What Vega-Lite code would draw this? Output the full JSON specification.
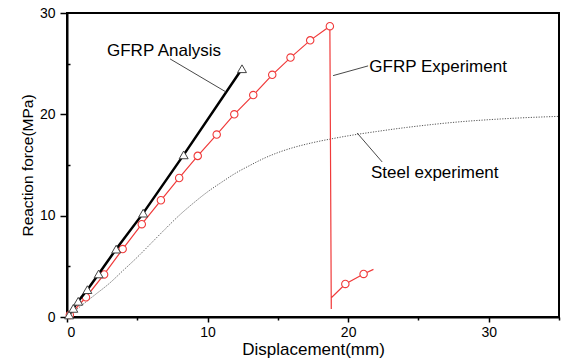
{
  "$schema": "https://vega.github.io/schema/vega-lite/v6.json",
  "width": 492,
  "height": 304,
  "autosize": {"type": "none"},
  "padding": {"left": 67, "top": 13, "right": 6, "bottom": 42},
  "background": "white",
  "config": {
    "font": "Liberation Sans",
    "view": {"stroke": "black", "strokeWidth": 2},
    "axis": {"grid": false, "domainColor": "black", "domainWidth": 2, "tickColor": "black", "tickWidth": 1.5, "labelColor": "black", "titleColor": "black", "labelFont": "Liberation Sans", "titleFont": "Liberation Sans", "labelFontSize": 14, "titleFontWeight": "normal"}
  },
  "datasets": {
    "steel": [
      {"x": 0, "y": 0}, {"x": 1, "y": 1.1}, {"x": 2, "y": 2.2}, {"x": 3, "y": 3.3}, {"x": 4, "y": 4.6},
      {"x": 5, "y": 5.9}, {"x": 6, "y": 7.3}, {"x": 7, "y": 8.7}, {"x": 8, "y": 10.05}, {"x": 9, "y": 11.25},
      {"x": 10, "y": 12.35}, {"x": 11, "y": 13.3}, {"x": 12, "y": 14.2}, {"x": 13, "y": 14.95}, {"x": 14, "y": 15.65},
      {"x": 15, "y": 16.22}, {"x": 16, "y": 16.68}, {"x": 17, "y": 17.05}, {"x": 18, "y": 17.36}, {"x": 19, "y": 17.63},
      {"x": 20, "y": 17.88}, {"x": 22, "y": 18.3}, {"x": 24, "y": 18.68}, {"x": 26, "y": 19.0}, {"x": 28, "y": 19.27},
      {"x": 30, "y": 19.47}, {"x": 32, "y": 19.63}, {"x": 35, "y": 19.8}
    ],
    "gfrpExp": [
      {"i": 0, "x": 0.2, "y": 0.2, "m": 1}, {"i": 1, "x": 1.35, "y": 1.95, "m": 1}, {"i": 2, "x": 2.64, "y": 4.2, "m": 1},
      {"i": 3, "x": 3.96, "y": 6.7, "m": 1}, {"i": 4, "x": 5.32, "y": 9.16, "m": 1}, {"i": 5, "x": 6.68, "y": 11.52, "m": 1},
      {"i": 6, "x": 7.98, "y": 13.72, "m": 1}, {"i": 7, "x": 9.3, "y": 15.9, "m": 1}, {"i": 8, "x": 10.65, "y": 18.0, "m": 1},
      {"i": 9, "x": 11.9, "y": 20.0, "m": 1}, {"i": 10, "x": 13.25, "y": 21.9, "m": 1}, {"i": 11, "x": 14.6, "y": 23.9, "m": 1},
      {"i": 12, "x": 15.9, "y": 25.6, "m": 1}, {"i": 13, "x": 17.3, "y": 27.3, "m": 1}, {"i": 14, "x": 18.7, "y": 28.7, "m": 1},
      {"i": 15, "x": 18.8, "y": 0.8, "m": 0}, {"i": 16, "x": 18.8, "y": 1.9, "m": 0}, {"i": 17, "x": 19.8, "y": 3.26, "m": 1},
      {"i": 18, "x": 21.1, "y": 4.25, "m": 1}, {"i": 19, "x": 21.8, "y": 4.7, "m": 0}
    ],
    "gfrpAna": [
      {"x": 0.15, "y": 0.2}, {"x": 0.45, "y": 0.85}, {"x": 0.8, "y": 1.55}, {"x": 1.45, "y": 2.7},
      {"x": 2.25, "y": 4.25}, {"x": 3.5, "y": 6.7}, {"x": 5.42, "y": 10.25}, {"x": 8.3, "y": 16.0}, {"x": 12.45, "y": 24.5}
    ],
    "leaders": [
      {"x": 7.33, "y": 25.47, "x2": 11.32, "y2": 22.2},
      {"x": 18.93, "y": 23.82, "x2": 21.42, "y2": 24.78},
      {"x": 20.64, "y": 18.16, "x2": 22.42, "y2": 15.3}
    ],
    "labels": [
      {"x": 6.9, "y": 25.77, "label": "GFRP Analysis"},
      {"x": 26.4, "y": 24.19, "label": "GFRP Experiment"},
      {"x": 26.16, "y": 13.72, "label": "Steel experiment"}
    ]
  },
  "encoding": {
    "x": {
      "field": "x", "type": "quantitative",
      "scale": {"domain": [0, 35], "nice": false, "zero": false},
      "axis": {
        "title": "Displacement(mm)", "titleFontSize": 17, "titleY": 37, "titleBaseline": "alphabetic",
        "values": [0, 5, 10, 15, 20, 25, 30, 35],
        "labelExpr": "datum.value % 10 === 0 ? datum.label : ''",
        "tickSize": {"condition": {"test": "datum.value % 10 === 0", "value": 5}, "value": 3},
        "labelPadding": 3
      }
    },
    "y": {
      "field": "y", "type": "quantitative",
      "scale": {"domain": [0, 30], "nice": false},
      "axis": {
        "title": "Reaction force(MPa)", "titleFontSize": 15.5, "titlePadding": 4,
        "values": [0, 5, 10, 15, 20, 25, 30],
        "labelExpr": "datum.value % 10 === 0 ? datum.label : ''",
        "tickSize": {"condition": {"test": "datum.value % 10 === 0", "value": 7}, "value": -3},
        "labelPadding": 5
      }
    }
  },
  "layer": [
    {
      "data": {"name": "steel"},
      "mark": {"type": "line", "color": "#555555", "strokeWidth": 1, "strokeDash": [1.2, 1.4], "interpolate": "monotone"}
    },
    {
      "data": {"name": "gfrpExp"},
      "mark": {"type": "line", "color": "#f03a3a", "strokeWidth": 1.2},
      "encoding": {"order": {"field": "i", "type": "quantitative"}}
    },
    {
      "data": {"name": "gfrpExp"},
      "transform": [{"filter": "datum.m === 1"}],
      "mark": {"type": "point", "shape": "circle", "filled": true, "fill": "white", "stroke": "#f03a3a", "strokeWidth": 1.1, "size": 55, "opacity": 1}
    },
    {
      "data": {"name": "gfrpAna"},
      "mark": {"type": "line", "color": "black", "strokeWidth": 2.5}
    },
    {
      "data": {"name": "gfrpAna"},
      "mark": {"type": "point", "shape": "triangle-up", "filled": true, "fill": "white", "stroke": "#444444", "strokeWidth": 1, "size": 80, "opacity": 1}
    },
    {
      "data": {"name": "leaders"},
      "mark": {"type": "rule", "color": "#333333", "strokeWidth": 0.9},
      "encoding": {"x2": {"field": "x2"}, "y2": {"field": "y2"}}
    },
    {
      "data": {"name": "labels"},
      "mark": {"type": "text", "fontSize": 17, "align": "center", "baseline": "alphabetic", "color": "black", "font": "Liberation Sans"},
      "encoding": {"text": {"field": "label"}}
    }
  ]
}
